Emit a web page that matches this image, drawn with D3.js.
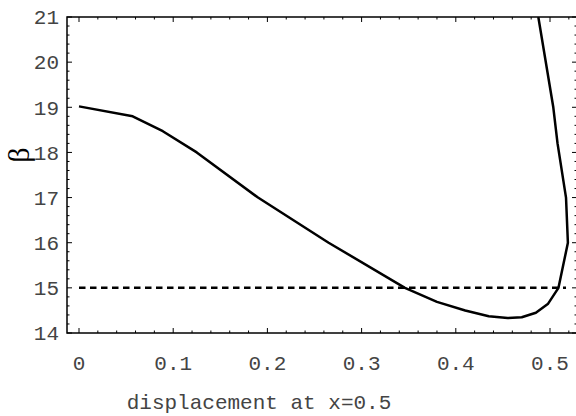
<!DOCTYPE html>
<html><head><meta charset="utf-8">
<script src="https://cdn.jsdelivr.net/npm/d3@7"></script>
<style>body{margin:0;background:#fff}svg{display:block}</style>
</head><body>
<svg id="c" width="576" height="416"></svg>
<script>
// Curve: displacement at x=0.5 vs beta
const displacement = [0, 0.057, 0.089, 0.125, 0.19, 0.265, 0.346, 0.38, 0.41, 0.435, 0.455, 0.47, 0.485, 0.498, 0.509, 0.519, 0.517, 0.508, 0.5035, 0.4876];
const beta =         [19.02, 18.8, 18.47, 18.0, 17.0, 16.0, 15.0, 14.69, 14.5, 14.37, 14.33, 14.35, 14.45, 14.65, 15.0, 16.0, 17.0, 18.2, 19.0, 21.0];
// Horizontal reference line
const refBeta = 15;
const refRange = [0, 0.517];
const xTicks = [0, 0.1, 0.2, 0.3, 0.4, 0.5];
const xTickLabels = ["0", "0.1", "0.2", "0.3", "0.4", "0.5"];
const yTicks = [14, 15, 16, 17, 18, 19, 20, 21];
const xLabel = "displacement at x=0.5";
const yLabel = "\u03B2";

const svg = d3.select("#c");
const x = d3.scaleLinear().domain([0, 0.5]).range([79, 550]);
const y = d3.scaleLinear().domain([14, 21]).range([333, 17]);
const xMin = x.invert(67), xMax = x.invert(577);
const yMin = 14, yMax = 21;

const mono = "'Liberation Mono', 'Courier New', monospace";

const pts = displacement.map((d, i) => [d, beta[i]]);
svg.append("defs").append("clipPath").attr("id", "clip")
  .append("rect").attr("x", x(xMin)).attr("y", y(yMax)).attr("width", x(xMax) - x(xMin)).attr("height", y(yMin) - y(yMax));

const g = svg.append("g").attr("clip-path", "url(#clip)");
g.append("line")
  .attr("x1", x(refRange[0])).attr("x2", x(refRange[1]))
  .attr("y1", y(refBeta)).attr("y2", y(refBeta))
  .attr("stroke", "#000").attr("stroke-width", 2.5).attr("stroke-dasharray", "6.5,4.5");
g.append("path").datum(pts)
  .attr("d", d3.line().x(d => x(d[0])).y(d => y(d[1])))
  .attr("fill", "none").attr("stroke", "#000").attr("stroke-width", 2.5).attr("stroke-linejoin", "round");

// ticks
const xMinor = d3.range(0, 0.5401, 0.02).map(v => +v.toFixed(2));
const yMinor = d3.range(14, 21.001, 0.2).map(v => +v.toFixed(1));
const isMajorX = v => Math.abs(v * 10 - Math.round(v * 10)) < 1e-6;
const isMajorY = v => Math.abs(v - Math.round(v)) < 1e-6;
const tk = svg.append("g").attr("stroke", "#000").attr("stroke-width", 1);
xMinor.forEach(v => {
  if (v > xMax) return;
  const L = isMajorX(v) ? 5 : 2.5;
  tk.append("line").attr("x1", x(v)).attr("x2", x(v)).attr("y1", y(yMin)).attr("y2", y(yMin) - L);
  tk.append("line").attr("x1", x(v)).attr("x2", x(v)).attr("y1", y(yMax)).attr("y2", y(yMax) + L);
});
yMinor.forEach(v => {
  const L = isMajorY(v) ? 5 : 2.5;
  tk.append("line").attr("x1", x(xMin)).attr("x2", x(xMin) + L).attr("y1", y(v)).attr("y2", y(v));
  tk.append("line").attr("x1", x(xMax)).attr("x2", x(xMax) - L).attr("y1", y(v)).attr("y2", y(v));
});

// frame
svg.append("rect").attr("x", x(xMin)).attr("y", y(yMax))
  .attr("width", x(xMax) - x(xMin)).attr("height", y(yMin) - y(yMax))
  .attr("fill", "none").attr("stroke", "#000").attr("stroke-width", 1.5);

// labels
svg.append("g").selectAll("text").data(xTicks).join("text")
  .attr("x", d => x(d)).attr("y", 370)
  .attr("text-anchor", "middle")
  .attr("font-family", mono).attr("font-size", 21).attr("fill", "#444")
  .text((d, i) => xTickLabels[i]);
svg.append("g").selectAll("text").data(yTicks).join("text")
  .attr("x", 59).attr("y", d => y(d)).attr("dy", "0.35em")
  .attr("text-anchor", "end")
  .attr("font-family", mono).attr("font-size", 21).attr("fill", "#444")
  .text(d => d);
svg.append("text").attr("x", 259).attr("y", 409).attr("text-anchor", "middle")
  .attr("font-family", mono).attr("font-size", 21).attr("fill", "#444").text(xLabel);
svg.append("text").attr("transform", "translate(29,155) rotate(-90)")
  .attr("text-anchor", "middle")
  .attr("font-family", "'Liberation Serif', 'Times New Roman', serif").attr("font-size", 30).attr("fill", "#000")
  .text(yLabel);
</script>
</body></html>
